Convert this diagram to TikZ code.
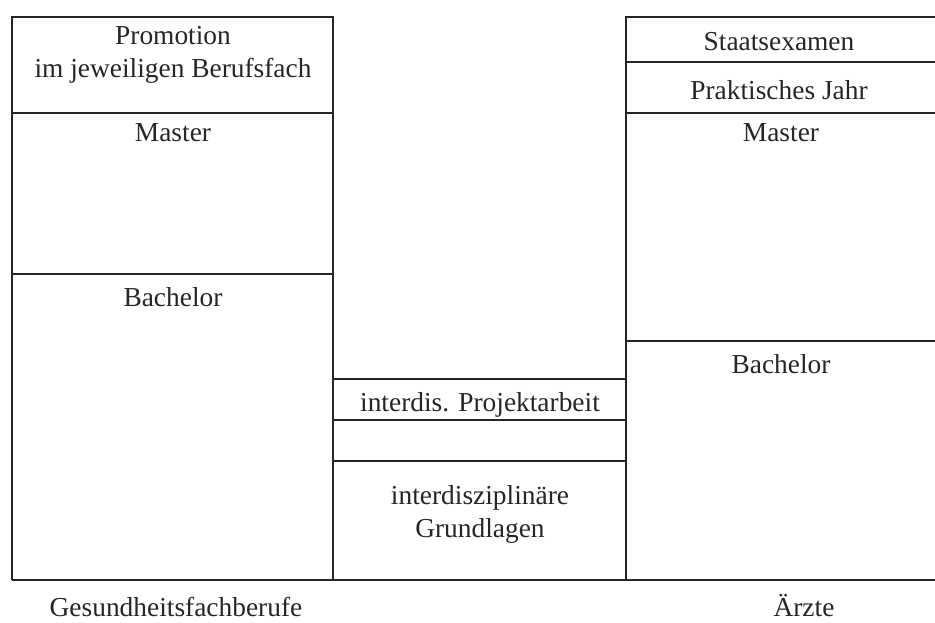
\documentclass[tikz,border=0pt]{standalone}
\usepackage{fontspec}
\setmainfont{Liberation Serif}
\usepackage{tikz}
\usetikzlibrary{positioning}
\tikzset{
  feld/.style={align=center,anchor=base,inner sep=0pt,text=black!85,
    font=\fontsize{13.7}{16.5}\selectfont},
  rahmen/.style={draw=black!85,line width=0.8pt},
}
\begin{document}
\begin{tikzpicture}[x=0.5pt,y=-0.5pt]
  \useasboundingbox[fill=white] (0,0) rectangle (935,622);
  % Gesundheitsfachberufe
  \draw[rahmen] (12,580) -- (12,17) -- (333,17) -- (333,580);
  \draw[rahmen] (12,113) -- (333,113);
  \draw[rahmen] (12,274) -- (333,274);
  % interdisziplinaerer Teil
  \draw[rahmen] (333,379) -- (626,379);
  \draw[rahmen] (333,420) -- (626,420);
  \draw[rahmen] (333,461) -- (626,461);
  % Aerzte
  \draw[rahmen] (935,17) -- (626,17) -- (626,580);
  \draw[rahmen] (626,62) -- (935,62);
  \draw[rahmen] (626,113) -- (935,113);
  \draw[rahmen] (626,341) -- (935,341);
  \draw[rahmen] (12,580) -- (935,580);

  \node[feld] (promotion) at (173,77) {Promotion\\im jeweiligen Berufsfach};
  \node[feld] (masterL) at (173,141) {Master};
  \node[feld] (bachelorL) at (173,306) {Bachelor};
  \node[feld] (projekt) at (480,411) {interdis. Projektarbeit};
  \node[feld] (grundlagen) at (480,537) {interdisziplinäre\\Grundlagen};
  \node[feld] (staatsexamen) at (779,50) {Staatsexamen};
  \node[feld] (pj) at (779,99) {Praktisches Jahr};
  \node[feld] (masterR) at (781,141) {Master};
  \node[feld] (bachelorR) at (781,373) {Bachelor};
  \node[feld] (gesund) at (176,616) {Gesundheitsfachberufe};
  \node[feld] (aerzte) at (804,616) {Ärzte};
\end{tikzpicture}
\end{document}
